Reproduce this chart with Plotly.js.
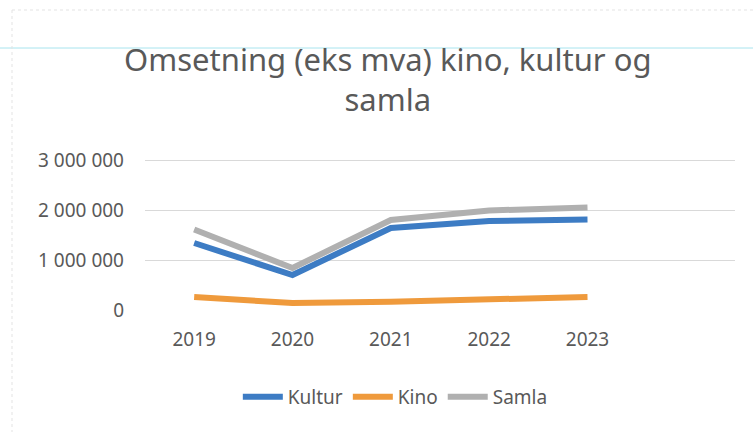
<!DOCTYPE html>
<html><head><meta charset="utf-8">
<script src="https://cdn.plot.ly/plotly-3.0.1.min.js"></script>
<style>html,body{margin:0;padding:0;background:#fff}#chart{width:753px;height:432px}</style>
</head><body><div id="chart"></div>
<script>
const years = [2019, 2020, 2021, 2022, 2023];
const kultur = [1340000, 700000, 1640000, 1780000, 1810000];
const kino = [260000, 140000, 165000, 205000, 260000];
const samla = [1610000, 840000, 1800000, 1990000, 2050000];
const yTicks = [0, 1000000, 2000000, 3000000];

const gray = '#595959';
const font = 'Noto Sans, sans-serif';
const mk = (name, y, color) => ({
  type: 'scatter', mode: 'lines', name: name, x: years, y: y,
  line: {color: color, width: 6}
});
const data = [
  mk('Kultur', kultur, '#3d7cc4'),
  mk('Kino', kino, '#ef9a3c'),
  mk('Samla', samla, '#b0b0b0')
];
const pH = 153, mB = 121;
const py = (ypx) => (432 - ypx - mB) / pH;
const layout = {
  width: 753, height: 432,
  paper_bgcolor: '#fff', plot_bgcolor: '#fff',
  separators: ', ',
  margin: {l: 145, r: 18, t: 158, b: mB},
  title: {
    text: 'Omsetning (eks mva) kino, kultur og<br>samla',
    font: {family: font, size: 31, color: gray},
    xref: 'container', x: 0.515, xanchor: 'center',
    yref: 'container', y: 1 - 71 / 432, yanchor: 'middle'
  },
  xaxis: {
    range: [2018.5, 2024.5], tickvals: years, ticktext: years.map(String),
    showgrid: false, zeroline: false, showline: false, ticks: '',
    ticklabelstandoff: 15,
    tickfont: {family: font, size: 19, color: gray}
  },
  yaxis: {
    range: [-20000, 3040000], tickvals: yTicks, tickformat: ',d',
    showgrid: true, gridcolor: '#d9d9d9', gridwidth: 1,
    zeroline: false,
    showline: false, ticks: '', ticklabelstandoff: 20,
    tickfont: {family: font, size: 19, color: gray}
  },
  showlegend: true,
  legend: {
    orientation: 'h', xref: 'container', x: 0.525, xanchor: 'center',
    yref: 'container', y: 1 - 397 / 432, yanchor: 'middle',
    font: {family: font, size: 19, color: gray},
    itemwidth: 40, tracegroupgap: 0
  },
  shapes: [
    {type: 'line', xref: 'paper', yref: 'paper', x0: -0.3, x1: 1.1, y0: py(48), y1: py(48),
     line: {color: '#a8e4ee', width: 1}},
    {type: 'line', xref: 'paper', yref: 'paper', x0: (12 - 145) / 590, x1: 1.1, y0: py(10), y1: py(10),
     line: {color: '#e3e3e3', width: 1, dash: 'dot'}},
    {type: 'line', xref: 'paper', yref: 'paper', x0: (12 - 145) / 590, x1: (12 - 145) / 590, y0: py(10), y1: py(432),
     line: {color: '#e3e3e3', width: 1, dash: 'dot'}}
  ]
};
Plotly.newPlot('chart', data, layout, {displayModeBar: false, staticPlot: true});
</script>
</body></html>
